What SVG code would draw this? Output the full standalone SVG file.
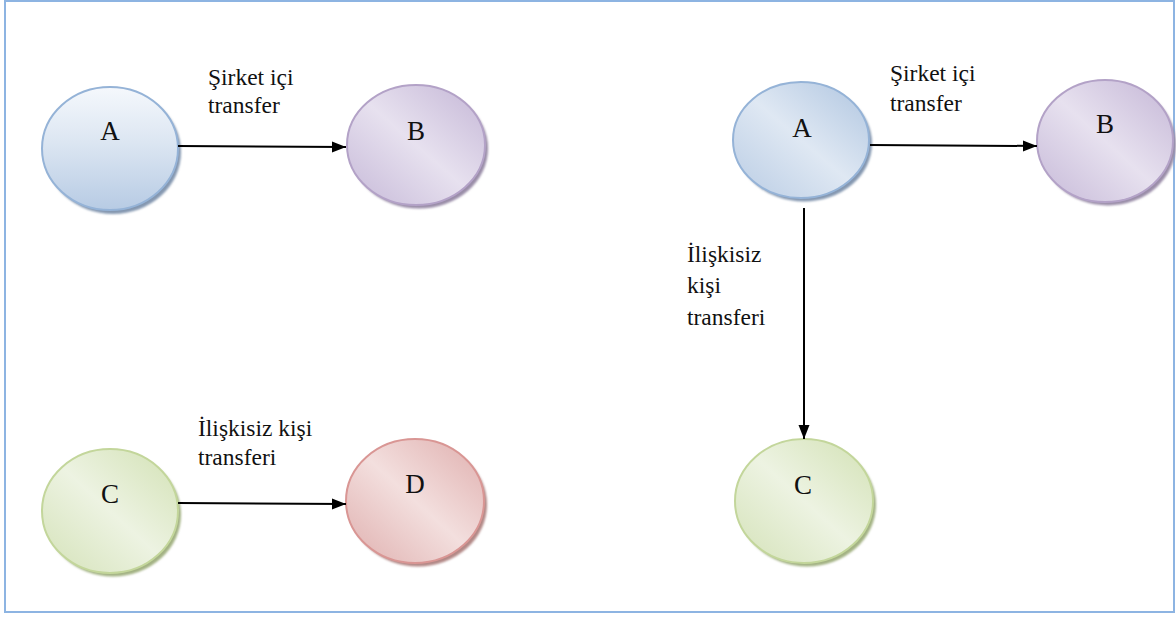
<svg xmlns="http://www.w3.org/2000/svg" width="1176" height="617" viewBox="0 0 1176 617">
  <defs>
    <style>
      .frame { fill: #ffffff; stroke: #8DB4E2; stroke-width: 2; }
      .lbl { font-family: "Liberation Serif", "Times New Roman", serif; font-size: 23.5px; fill: #111111; }
      .nodeTxt { font-family: "Liberation Serif", "Times New Roman", serif; font-size: 27px; fill: #111111; text-anchor: middle; }
      .edge { fill: none; stroke: #000000; stroke-width: 2; }
      .shadow { filter: url(#soft); }
      .blue { stroke: #95B3D7; stroke-width: 2; }
      .purple { stroke: #B3A2C7; stroke-width: 2; }
      .green { stroke: #C3D69B; stroke-width: 2; }
      .red { stroke: #D99694; stroke-width: 2; }
    </style>
    <filter id="soft" x="-10%" y="-10%" width="120%" height="120%">
      <feGaussianBlur stdDeviation="1"/>
    </filter>
    <marker id="arrow" markerUnits="userSpaceOnUse" markerWidth="15" markerHeight="12" refX="14" refY="5.5" orient="auto">
      <path d="M0,0 L14,5.5 L0,11 z" fill="#000000"/>
    </marker>
    <linearGradient id="gBlueV" x1="0" y1="0" x2="0" y2="1">
      <stop offset="0" stop-color="#F5F8FC"/>
      <stop offset="0.45" stop-color="#DCE6F2"/>
      <stop offset="1" stop-color="#B7CBE4"/>
    </linearGradient>
    <linearGradient id="gBlueD" x1="1" y1="0" x2="0" y2="1">
      <stop offset="0" stop-color="#AFC5E0"/>
      <stop offset="0.5" stop-color="#DFE8F3"/>
      <stop offset="1" stop-color="#B9CCE4"/>
    </linearGradient>
    <linearGradient id="gPurple" x1="1" y1="0" x2="0" y2="1">
      <stop offset="0" stop-color="#C4B6D6"/>
      <stop offset="0.5" stop-color="#E7E1EF"/>
      <stop offset="1" stop-color="#C6B9D8"/>
    </linearGradient>
    <linearGradient id="gGreen" x1="1" y1="0" x2="0" y2="1">
      <stop offset="0" stop-color="#D2E1B4"/>
      <stop offset="0.5" stop-color="#EDF3E2"/>
      <stop offset="1" stop-color="#D4E2B8"/>
    </linearGradient>
    <linearGradient id="gRed" x1="1" y1="0" x2="0" y2="1">
      <stop offset="0" stop-color="#DFAEAD"/>
      <stop offset="0.5" stop-color="#F3DFDE"/>
      <stop offset="1" stop-color="#DFAFAE"/>
    </linearGradient>
  </defs>

  <!-- outer frame -->
  <rect class="frame" x="5" y="1" width="1169" height="611"/>

  <!-- left scenario -->
  <g id="nodeA1">
    <ellipse class="shadow" cx="113" cy="152" rx="68" ry="62" fill="#8497B0"/>
    <ellipse class="blue" cx="110" cy="148.5" rx="68" ry="61.5" fill="url(#gBlueV)"/>
    <text class="nodeTxt" x="110" y="140">A</text>
  </g>
  <g id="nodeB1">
    <ellipse class="shadow" cx="419" cy="148.5" rx="69" ry="60" fill="#9A8DA8"/>
    <ellipse class="purple" cx="416" cy="145" rx="69" ry="60" fill="url(#gPurple)"/>
    <text class="nodeTxt" x="416" y="140">B</text>
  </g>
  <g id="nodeC1">
    <ellipse class="shadow" cx="113" cy="514.5" rx="68" ry="62" fill="#A3B283"/>
    <ellipse class="green" cx="110" cy="511" rx="68" ry="62" fill="url(#gGreen)"/>
    <text class="nodeTxt" x="110" y="503">C</text>
  </g>
  <g id="nodeD1">
    <ellipse class="shadow" cx="418" cy="504.5" rx="69" ry="62" fill="#B28886"/>
    <ellipse class="red" cx="415" cy="501" rx="69" ry="62" fill="url(#gRed)"/>
    <text class="nodeTxt" x="415" y="493">D</text>
  </g>

  <!-- right scenario -->
  <g id="nodeA2">
    <ellipse class="shadow" cx="804" cy="143.5" rx="68" ry="58" fill="#8497B0"/>
    <ellipse class="blue" cx="801" cy="140" rx="68" ry="58" fill="url(#gBlueD)"/>
    <text class="nodeTxt" x="802" y="137">A</text>
  </g>
  <g id="nodeB2">
    <ellipse class="shadow" cx="1108" cy="144.5" rx="68" ry="61" fill="#9A8DA8"/>
    <ellipse class="purple" cx="1105" cy="141" rx="68" ry="61" fill="url(#gPurple)"/>
    <text class="nodeTxt" x="1105" y="133">B</text>
  </g>
  <g id="nodeC2">
    <ellipse class="shadow" cx="807" cy="504.5" rx="69" ry="62" fill="#A3B283"/>
    <ellipse class="green" cx="804" cy="501" rx="69" ry="62" fill="url(#gGreen)"/>
    <text class="nodeTxt" x="803" y="494">C</text>
  </g>

  <!-- connectors -->
  <g id="connectors">
    <line class="edge" x1="178" y1="146" x2="346" y2="147" marker-end="url(#arrow)"/>
    <line class="edge" x1="178" y1="503" x2="346" y2="504" marker-end="url(#arrow)"/>
    <line class="edge" x1="870" y1="145" x2="1037" y2="146" marker-end="url(#arrow)"/>
    <line class="edge" x1="804" y1="208" x2="804" y2="439" marker-end="url(#arrow)"/>
  </g>

  <!-- connector labels -->
  <g id="labels">
    <text class="lbl" x="208" y="85">Şirket içi</text>
    <text class="lbl" x="208" y="113">transfer</text>
    <text class="lbl" x="198" y="436">İlişkisiz kişi</text>
    <text class="lbl" x="198" y="465">transferi</text>
    <text class="lbl" x="890" y="81">Şirket içi</text>
    <text class="lbl" x="890" y="111">transfer</text>
    <text class="lbl" x="687" y="262">İlişkisiz</text>
    <text class="lbl" x="687" y="293">kişi</text>
    <text class="lbl" x="687" y="325">transferi</text>
  </g>
</svg>
